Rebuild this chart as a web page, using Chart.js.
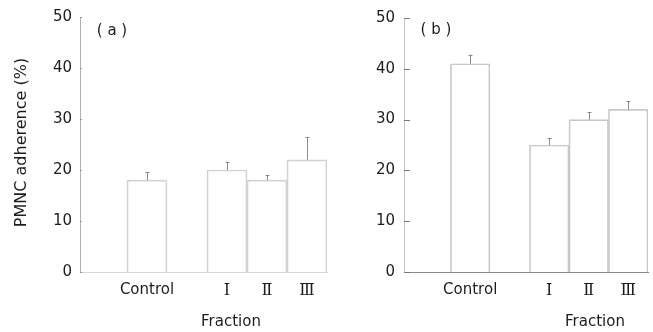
<!DOCTYPE html>
<html>
<head>
<meta charset="utf-8">
<script src="https://cdn.jsdelivr.net/npm/chart.js@4.4.0/dist/chart.umd.min.js"></script>
<style>
  html, body { margin: 0; padding: 0; background: #fff; }
  body { width: 653px; height: 332px; position: relative; overflow: hidden; }
  canvas { position: absolute; top: 0; }
</style>
</head>
<body>
<canvas id="panelA" width="330" height="332" style="left:0px"></canvas>
<canvas id="panelB" width="323" height="332" style="left:330px"></canvas>
<script>
// ---- data (blank categories are the empty slots on the axis) ----
const categories = ['', 'Control', '', 'Ⅰ', 'Ⅱ', 'Ⅲ'];
const adherenceA = [null, 18, null, 20, 18, 22];
const errorA     = [null, 1.6, null, 1.6, 1.0, 4.5];
const adherenceB = [null, 41, null, 25, 30, 32];
const errorB     = [null, 1.8, null, 1.3, 1.4, 1.6];
const yTicks = [0, 10, 20, 30, 40, 50];
const panelLabels = ['( a )', '( b )'];
const xTitle = 'Fraction';
const yTitle = 'PMNC adherence (%)';

const FONT = "'DejaVu Sans', sans-serif";
const ROMAN_FONT = "'DejaVu Serif', 'DejaVu Sans', serif";
const TEXT = '#1c1c1c';

function makePanel(id, values, errors, cfg) {
  const points = [];
  categories.forEach((c, i) => { if (values[i] !== null) points.push({ x: i, y: values[i] }); });

  const errorBars = {
    id: 'errorBars',
    afterDatasetsDraw(chart) {
      const ctx = chart.ctx, ys = chart.scales.y;
      const meta = chart.getDatasetMeta(0);
      ctx.save();
      ctx.strokeStyle = '#8a8a8a';
      ctx.lineWidth = 1;
      meta.data.forEach((el, k) => {
        const idx = points[k].x;
        const top = ys.getPixelForValue(values[idx] + errors[idx]);
        const base = ys.getPixelForValue(values[idx]);
        const x = Math.round(el.x) + 0.5;
        ctx.beginPath();
        ctx.moveTo(x, base); ctx.lineTo(x, top);
        ctx.moveTo(x - 2, Math.round(top) + 0.5); ctx.lineTo(x + 2, Math.round(top) + 0.5);
        ctx.stroke();
      });
      ctx.restore();
    }
  };

  const decorations = {
    id: 'decorations',
    afterDraw(chart) {
      const ctx = chart.ctx, ys = chart.scales.y, area = chart.chartArea;
      ctx.save();
      ctx.strokeStyle = cfg.tickColor;
      ctx.lineWidth = 1;
      yTicks.forEach(v => {
        const py = Math.round(ys.getPixelForValue(v)) + 0.5;
        ctx.beginPath();
        ctx.moveTo(area.left, py); ctx.lineTo(area.left + cfg.tickLen, py);
        ctx.stroke();
      });
      ctx.fillStyle = TEXT;
      ctx.textAlign = 'center';
      ctx.textBaseline = 'middle';
      ctx.font = '15px ' + FONT;
      ctx.fillText(cfg.label, cfg.labelX, cfg.labelY);
      ctx.fillText(xTitle, cfg.xTitleX, cfg.xTitleY);
      if (cfg.showYTitle) {
        ctx.font = '16px ' + FONT;
        ctx.translate(22, (area.top + area.bottom) / 2 - 2);
        ctx.rotate(-Math.PI / 2);
        ctx.fillText(yTitle, 0, 0);
      }
      ctx.restore();
    }
  };

  return new Chart(document.getElementById(id), {
    type: 'bar',
    data: {
      datasets: [{
        data: points,
        backgroundColor: 'rgba(0,0,0,0)',
        borderColor: cfg.barColor,
        borderWidth: 1,
        borderSkipped: 'bottom',
        barPercentage: 1,
        categoryPercentage: 1
      }]
    },
    options: {
      responsive: false,
      animation: false,
      devicePixelRatio: 1,
      layout: { padding: { top: 16, right: cfg.rightPad, left: 0, bottom: 0 } },
      plugins: { legend: { display: false }, tooltip: { enabled: false } },
      scales: {
        x: {
          type: 'linear',
          offset: false,
          min: -0.675,
          max: 5.5,
          afterBuildTicks: s => { s.ticks = categories.map((c, i) => ({ value: i })).filter(t => categories[t.value] !== ''); },
          afterFit: s => { s.height = 60; },
          ticks: {
            autoSkip: false, maxRotation: 0, padding: 9,
            color: TEXT,
            font: c => {
              const lab = c.tick ? categories[c.tick.value] : '';
              return (lab && lab !== 'Control') ? { family: ROMAN_FONT, size: 16 } : { family: FONT, size: 15 };
            },
            callback: v => categories[v] || ''
          },
          grid: { display: false, drawTicks: false, offset: false },
          border: { color: cfg.xAxisColor, width: 1 }
        },
        y: {
          min: 0, max: 50,
          afterBuildTicks: s => { s.ticks = yTicks.map(v => ({ value: v })); },
          afterFit: s => { s.width = cfg.leftW; },
          ticks: { padding: cfg.tickPad, color: TEXT, font: { family: FONT, size: 15 } },
          grid: { display: false, drawTicks: false },
          border: { color: cfg.yAxisColor, width: 1 }
        }
      }
    },
    plugins: [errorBars, decorations]
  });
}

makePanel('panelA', adherenceA, errorA, {
  leftW: 80, rightPad: 3, tickPad: 8, tickLen: 2,
  barColor: '#d2d2d2', xAxisColor: '#d8d8d8', yAxisColor: '#b0b0b0', tickColor: '#999',
  label: panelLabels[0], labelX: 112, labelY: 31,
  xTitleX: 231, xTitleY: 322, showYTitle: true
});
makePanel('panelB', adherenceB, errorB, {
  leftW: 74, rightPad: 5, tickPad: 9, tickLen: 6,
  barColor: '#c8c8c8', xAxisColor: '#8a8a8a', yAxisColor: '#c8c8c8', tickColor: '#777',
  label: panelLabels[1], labelX: 106, labelY: 30,
  xTitleX: 265, xTitleY: 322, showYTitle: false
});
</script>
</body>
</html>
